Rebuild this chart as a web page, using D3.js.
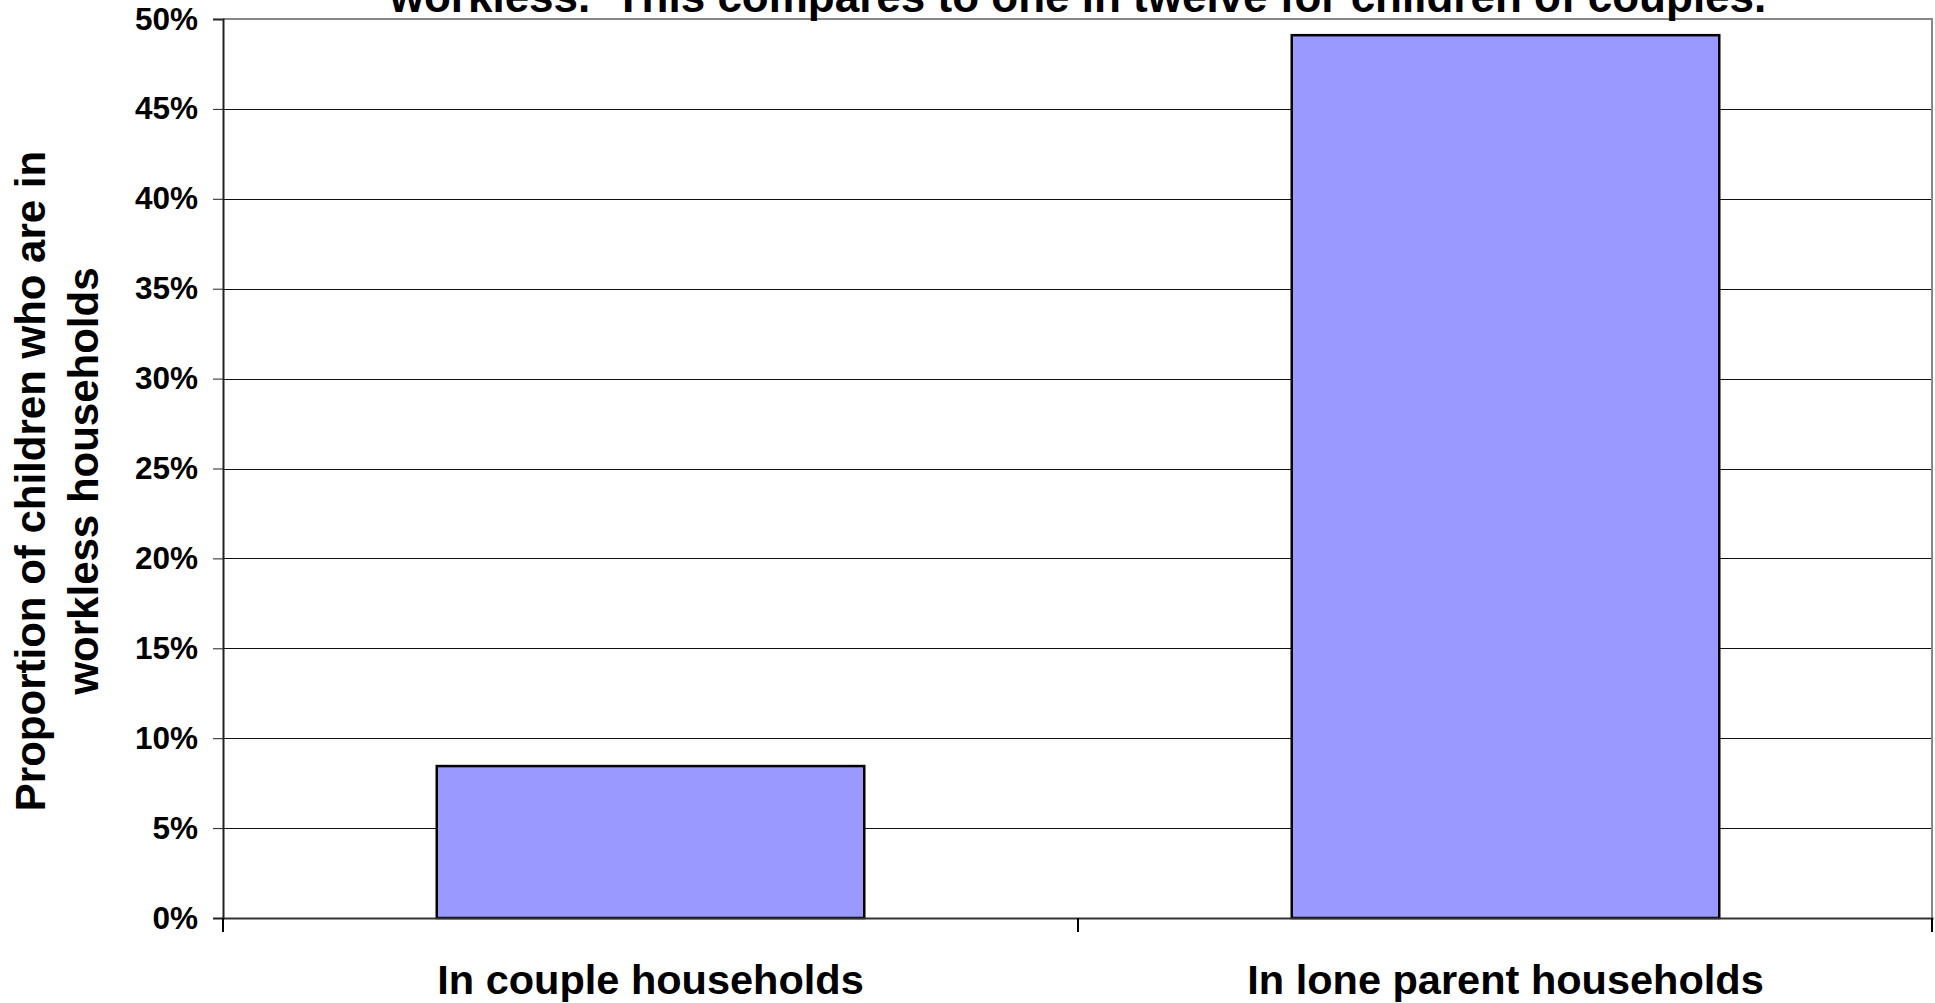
<!DOCTYPE html>
<html>
<head>
<meta charset="utf-8">
<script src="https://cdn.jsdelivr.net/npm/d3@7"></script>
<style>
  body { margin: 0; background: #fff; }
  text { font-family: "Liberation Sans", Arial, sans-serif; font-weight: bold; fill: #000; }
</style>
</head>
<body>
<div id="chart"></div>
<script>
// chart data
var categories = ["In couple households", "In lone parent households"];
var values = [0.0845, 0.491];
var yTicks = [0, 0.05, 0.10, 0.15, 0.20, 0.25, 0.30, 0.35, 0.40, 0.45, 0.50];
var titleLine = "workless.  This compares to one in twelve for children of couples.";
var yTitle = ["Proportion of children who are in", "workless households"];

var W = 1935, H = 1003;
var plot = {left: 223, right: 1933, top: 19, bottom: 918};

var svg = d3.select("#chart").append("svg")
    .attr("width", W)
    .attr("height", H);

var x = d3.scaleBand()
    .domain(categories)
    .range([plot.left, plot.right])
    .paddingInner(0.5)
    .paddingOuter(0.25);

var y = d3.scaleLinear()
    .domain([0, 0.5])
    .range([plot.bottom, plot.top]);

// gridlines
svg.append("g")
  .selectAll("line")
  .data(yTicks.filter(function(d){ return d > 0 && d < 0.5; }))
  .enter().append("line")
    .attr("x1", plot.left)
    .attr("x2", plot.right)
    .attr("y1", function(d){ return Math.round(y(d)) + 0.5; })
    .attr("y2", function(d){ return Math.round(y(d)) + 0.5; })
    .attr("stroke", "#111")
    .attr("stroke-width", 1);

// plot border top / right
svg.append("line")
    .attr("x1", plot.left).attr("x2", plot.right)
    .attr("y1", y(0.5)).attr("y2", y(0.5))
    .attr("stroke", "#888").attr("stroke-width", 2);
svg.append("line")
    .attr("x1", plot.right - 1).attr("x2", plot.right - 1)
    .attr("y1", y(0.5)).attr("y2", y(0))
    .attr("stroke", "#888").attr("stroke-width", 2);

// bars
svg.selectAll(".bar")
    .data(values)
  .enter().append("rect")
    .attr("class", "bar")
    .attr("x", function(d,i){ return x(categories[i]); })
    .attr("y", function(d){ return y(d); })
    .attr("width", x.bandwidth())
    .attr("height", function(d){ return y(0) - y(d); })
    .attr("fill", "#9999ff")
    .attr("stroke", "#000")
    .attr("stroke-width", 2.5);

// y axis
var yAxis = svg.append("g")
    .attr("transform", "translate(" + plot.left + ",0)")
    .call(d3.axisLeft(y)
      .tickValues(yTicks)
      .tickSize(10)
      .tickPadding(15)
      .tickFormat(d3.format(".0%")));
yAxis.select(".domain").attr("stroke", "#222").attr("stroke-width", 2);
yAxis.selectAll(".tick line").attr("stroke", "#222");
yAxis.selectAll("text")
    .style("font-size", "31.5px")
    .style("font-family", "Liberation Sans, Arial, sans-serif")
    .style("font-weight", "bold");

// x axis
var xAxis = svg.append("g")
    .attr("transform", "translate(0," + plot.bottom + ")")
    .call(d3.axisBottom(x).tickSize(0).tickPadding(47));
xAxis.select(".domain").attr("stroke", "#333").attr("stroke-width", 2);
xAxis.selectAll("text")
    .style("font-size", "41.5px")
    .style("font-family", "Liberation Sans, Arial, sans-serif")
    .style("font-weight", "bold");

// category boundary ticks
var bounds = d3.range(categories.length + 1).map(function(i){ return plot.left + i * x.step(); });
xAxis.selectAll(".bound")
    .data(bounds)
  .enter().append("line")
    .attr("class", "bound")
    .attr("x1", function(d){ return Math.min(d, plot.right - 1); })
    .attr("x2", function(d){ return Math.min(d, plot.right - 1); })
    .attr("y1", 0)
    .attr("y2", 14)
    .attr("stroke", "#000")
    .attr("stroke-width", 2);

// title (only last line visible, top is cut in the original too)
svg.append("text")
    .attr("x", (plot.left + plot.right) / 2)
    .attr("y", 12)
    .attr("text-anchor", "middle")
    .style("font-size", "44px")
    .style("white-space", "pre")
    .text(titleLine);

// y axis title
var yt = svg.append("g")
    .attr("transform", "translate(0,481) rotate(-90)");
yt.selectAll("text")
    .data(yTitle)
  .enter().append("text")
    .attr("x", 0)
    .attr("y", function(d,i){ return 45 + i * 53; })
    .attr("text-anchor", "middle")
    .style("font-size", "42px")
    .text(function(d){ return d; });
</script>
</body>
</html>
